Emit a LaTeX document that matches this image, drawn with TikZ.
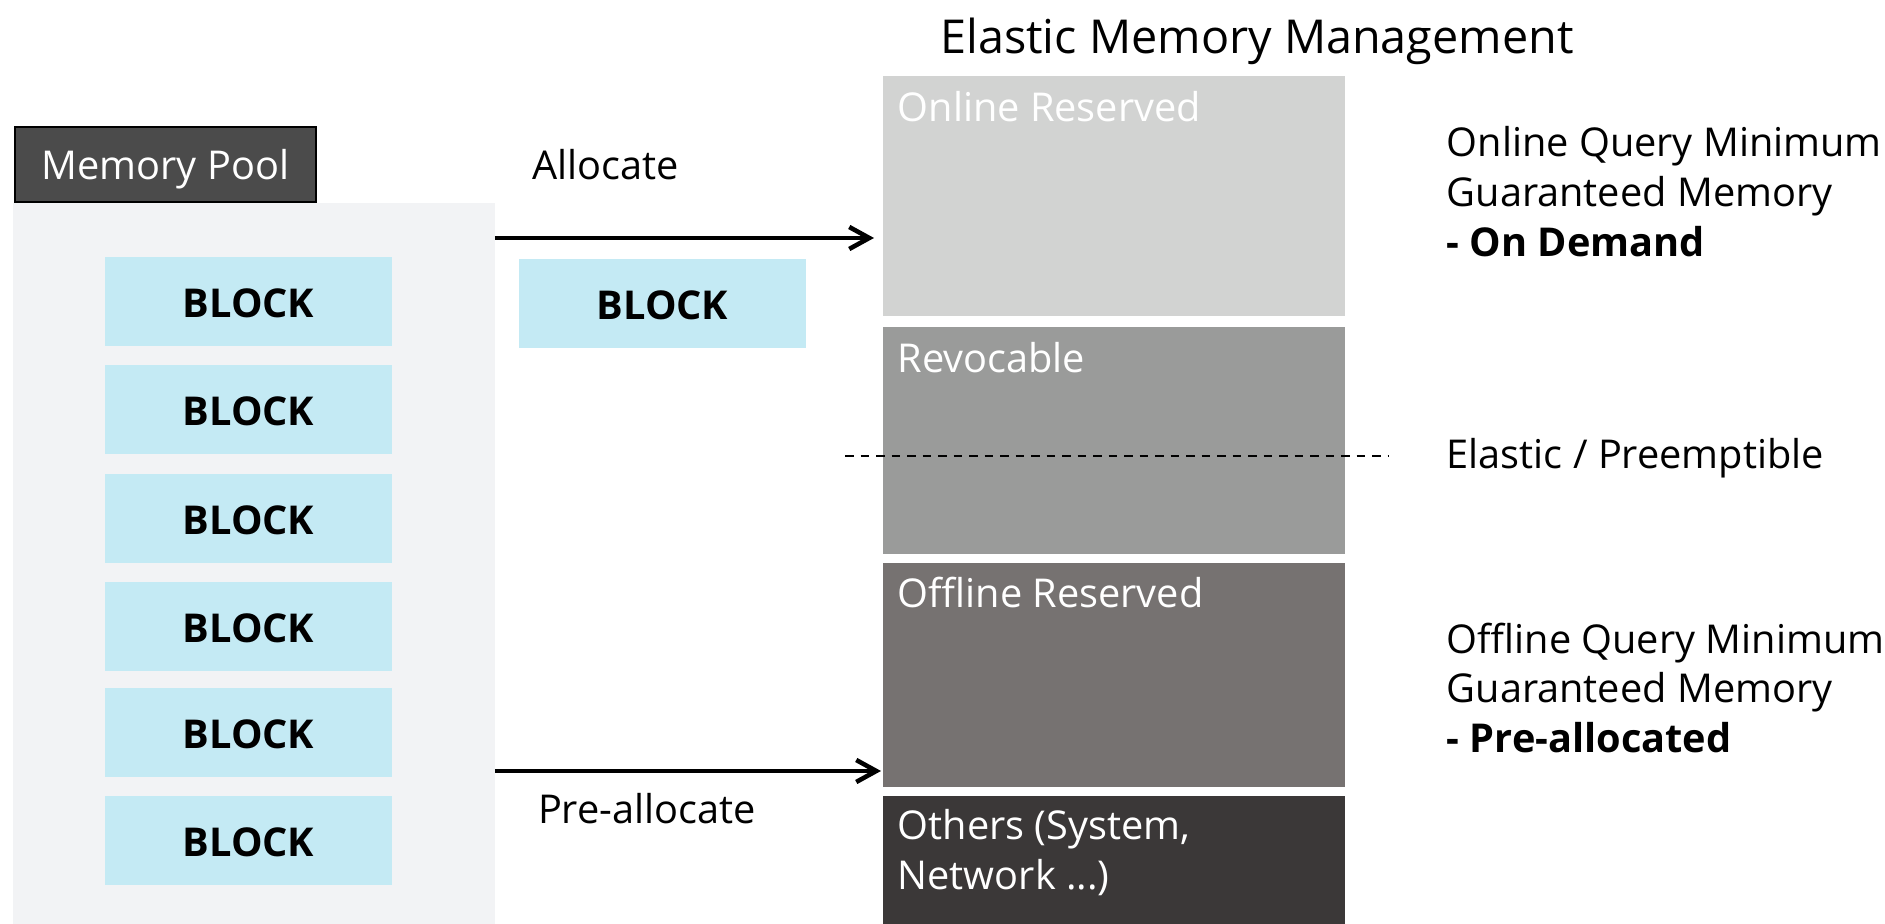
\documentclass[tikz,border=0pt]{standalone}
\usepackage{fontspec}
\setmainfont{Open Sans}
\usepackage{tikz}
\usetikzlibrary{arrows.meta}

\definecolor{poolhead}{HTML}{4B4B4B}
\definecolor{poolbg}{HTML}{F2F3F5}
\definecolor{blockc}{HTML}{C4EAF4}
\definecolor{onl}{HTML}{D2D3D2}
\definecolor{rev}{HTML}{9A9B9A}
\definecolor{offl}{HTML}{767271}
\definecolor{oth}{HTML}{3B3838}

\begin{document}
\begin{tikzpicture}[x=0.1mm,y=-0.1mm,
    txt/.style={font=\fontsize{11.3}{14.2}\selectfont,inner sep=0pt},
    box/.style={anchor=north west,inner sep=0pt,outer sep=0pt},
    blk/.style={box,fill=blockc,minimum width=28.7mm,minimum height=8.9mm,
      text height=0.9em,text depth=0pt,font=\fontsize{11.3}{14}\selectfont\bfseries},
    seg/.style={box,minimum width=46.2mm},
    seglbl/.style={txt,text=white,anchor=base west},
    arr/.style={line width=1.3pt,-{Straight Barb[length=2mm,width=2.2mm]}}]
  \useasboundingbox (0,0) rectangle (1885,924);

  % memory pool
  \node[box,fill=poolbg,minimum width=48.2mm,minimum height=72.1mm] (pool) at (13,203) {};
  \node[box,fill=poolhead,draw=black,line width=0.8pt,minimum width=30.1mm,
    minimum height=7.5mm,text depth=0pt,text=white,font=\fontsize{11.3}{14}\selectfont] (head) at (15,127) {Memory Pool};
  \foreach \i/\y in {1/257,2/365,3/474,4/582,5/688,6/796}
    \node[blk] (b\i) at (105,\y) {BLOCK};
  \node[blk] (bnew) at (519,259) {BLOCK};

  % elastic memory column
  \node[txt,font=\fontsize{13.3}{16}\selectfont,anchor=base] (title) at (1257,54) {Elastic Memory Management};
  \node[seg,fill=onl,minimum height=24mm] (online) at (883,76) {};
  \node[seg,fill=rev,minimum height=22.7mm] (revoc) at (883,327) {};
  \node[seg,fill=offl,minimum height=22.4mm] (offline) at (883,563) {};
  \node[seg,fill=oth,minimum height=12.8mm] (others) at (883,796) {};
  \node[seglbl] (onlinet) at ([shift={(1.4mm,-4.6mm)}]online.north west) {Online Reserved};
  \node[seglbl] (revoct) at ([shift={(1.4mm,-4.6mm)}]revoc.north west) {Revocable};
  \node[seglbl] (offlinet) at ([shift={(1.4mm,-4.5mm)}]offline.north west) {Offline Reserved};
  \node[txt,text=white,align=left,anchor=north west] (otherst)
    at ([shift={(1.4mm,-1.3mm)}]others.north west) {Others (System,\\Network ...)};

  % descriptions
  \node[txt,align=left,anchor=west] (onlinedesc) at (1446,192)
    {Online Query Minimum\\Guaranteed Memory\\\textbf{- On Demand}};
  \node[txt,anchor=west] (elastic) at (1446,458) {Elastic / Preemptible};
  \node[txt,align=left,anchor=west] (offlinedesc) at (1446,688)
    {Offline Query Minimum\\Guaranteed Memory\\\textbf{- Pre-allocated}};

  % arrows
  \node[txt,anchor=base] (alloc) at (606,180) {Allocate};
  \node[txt,anchor=base] (prealloc) at (647,824) {Pre-allocate};
  \coordinate (ay) at (0,238);
  \coordinate (py) at (0,771);
  \coordinate (d1) at (845,456);
  \draw[arr,shorten >=0.9mm] (pool.east |- ay) -- (online.west |- ay);
  \draw[arr,shorten >=0.2mm] (pool.east |- py) -- (offline.west |- py);
  \draw[line width=0.4pt,dash pattern=on 0.85mm off 0.7mm,shorten >=5.8mm] (d1) -- (elastic.west |- d1);
\end{tikzpicture}
\end{document}
